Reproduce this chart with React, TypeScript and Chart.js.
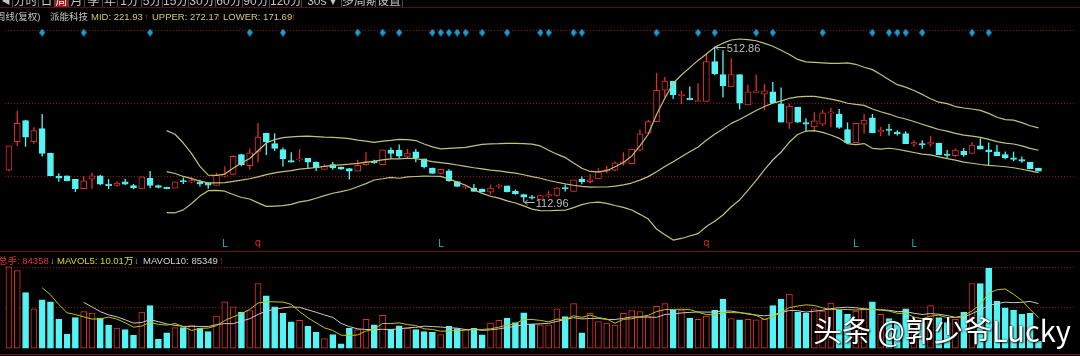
import React, { useEffect, useRef } from "react";
import { Chart, registerables } from "chart.js";

Chart.register(...registerables);

// ---------------- data (weekly K-line, 派能科技) ----------------
const opens = [
  195, 268.3, 322.5, 268.3, 301.8, 239.3, 180, 180.8, 171.8, 147.5,
  171.8, 180.8, 159.3, 155.8, 165, 155.8, 146.8, 174.3, 155.8, 150.8,
  148.8, 168.3, 164.3, 164.3, 161.8, 155.8, 180, 184.3, 235, 206.8,
  243.3, 290, 263.3, 248.3, 220, 221.8, 225.8, 215, 196.8, 209.3,
  203.3, 199.3, 192.5, 209.3, 218.3, 209.3, 246.8, 246.8, 230.5, 242.5,
  224.3, 200.8, 186.8, 193.3, 165.8, 150.8, 149.3, 146.8, 138.3, 153.3,
  155, 140.8, 132.5, 126.8, 120, 128.3, 130, 150, 140.8, 171.8,
  165.8, 172.5, 192.5, 195, 212.5, 211.8, 246.3, 290, 320, 400.8,
  424.3, 386.8, 380, 370.8, 371.8, 474.3, 440.8, 409.3, 440.8, 363.3,
  395, 390.8, 396.8, 365.8, 315.8, 357.5, 317.5, 306.3, 313.3, 342.5,
  339.3, 299.3, 265.8, 313.3, 330, 293.3, 300.8, 293.3, 289.3, 261.8,
  263.3, 261.8, 265, 236.8, 232.5, 243.3, 238.3, 257.5, 247.5, 242.5,
  235, 226.8, 222.5, 215.8, 200.8,
];
const highs = [
  257.5, 347.5, 324.3, 305, 339.3, 239.3, 186.8, 180.8, 171.8, 180,
  188.3, 182.5, 171.8, 165.8, 172.5, 159.3, 178.3, 192.5, 157.5, 152,
  165, 175.8, 176.8, 170, 163.3, 188.3, 205, 232.5, 236.8, 250.8,
  315.8, 290.8, 289.3, 253.3, 240.8, 249.3, 225.8, 216.8, 210, 215.8,
  203.8, 200, 221.8, 240.8, 221.8, 247.5, 253.3, 260.8, 249.3, 249.3,
  224.3, 201.3, 197.5, 196.8, 166.3, 157.5, 159.3, 147.5, 157.5, 160,
  155, 145, 133.8, 130.8, 130, 140.8, 151.3, 157.5, 170, 178.3,
  184.3, 200, 206.3, 216.8, 240.8, 250, 299.3, 324.3, 445, 434.3,
  424.3, 399.3, 410, 418.3, 495, 512.86, 503.3, 482.5, 440.8, 414.3,
  440.8, 415.8, 421.8, 407.5, 365.8, 357.5, 328.3, 343.8, 349.3, 355,
  351.8, 317.5, 316.3, 339.3, 339.3, 305.8, 313.3, 297.5, 295, 271.8,
  271.8, 282.5, 265, 246.8, 250.8, 251.8, 267.5, 276.8, 265.8, 259.3,
  242.5, 242.5, 230, 215.8, 200.8,
];
const lows = [
  192.5, 257.5, 255.8, 263.3, 230.8, 180, 165.8, 166.8, 139.3, 147.5,
  147.5, 157.5, 146.8, 153.3, 157.5, 146.8, 146.8, 149.3, 148.8, 146.3,
  148.8, 160, 161.8, 153.3, 147.5, 155.8, 176.8, 182.5, 205.8, 197.5,
  215.8, 234.3, 245, 205, 215, 218.3, 199.3, 193.3, 196.8, 196.8,
  196.3, 171.8, 192.5, 207.5, 211.8, 209.3, 224.3, 225.5, 224.3, 215.8,
  200, 186.3, 185, 165.8, 152.5, 146.8, 140, 138.8, 132.5, 146.8,
  138.8, 132.5, 112.96, 120, 119.3, 124.3, 127.5, 140.8, 140, 159.3,
  161.8, 172.5, 187.5, 192.5, 207.5, 211.3, 243.8, 288.8, 320, 382.5,
  378.3, 365.8, 375.5, 370.8, 371.8, 440, 382.5, 409.3, 351.8, 363.3,
  395, 349.3, 368.3, 318.3, 301.8, 317.5, 295, 295, 309.3, 305.8,
  301.8, 265.8, 265.8, 289.3, 290.8, 282.5, 285, 285, 263.3, 255.8,
  250.8, 255.8, 235, 226.8, 230, 230, 238.3, 249.3, 207.5, 232.5,
  223.8, 218.3, 214.3, 199.3, 192.5,
];
const closes = [
  257.5, 315.8, 280, 296.8, 238.3, 180.8, 174.3, 167.5, 147.5, 167.5,
  180.8, 159.3, 155, 161.8, 159.3, 149.3, 178.3, 155.8, 150.8, 147.5,
  165, 165.8, 168.3, 160, 156.8, 182.5, 182.5, 230.8, 209.3, 240,
  280, 268.3, 250.8, 225, 215.8, 224.3, 215.8, 200.8, 205, 200.8,
  197.5, 192.5, 207.5, 217.5, 214.3, 247.5, 238.3, 231.3, 239.3, 226.8,
  203.3, 186.8, 197.5, 167.5, 153.3, 153.3, 140.8, 139.3, 149.3, 155.8,
  139.3, 135, 125.8, 123.3, 130, 132.5, 149.3, 147.5, 170, 165.8,
  170, 190.8, 196.8, 213.8, 216.3, 249.3, 288.3, 320, 400.8, 424.3,
  389.3, 390.8, 376.8, 374.3, 474.3, 443.3, 411.8, 440.8, 367.5, 396.8,
  399.3, 399.3, 368.3, 318.3, 360, 318.3, 313.3, 321.8, 342.5, 345,
  305, 265.8, 315.8, 324.3, 290.8, 297.5, 297.5, 288.3, 263.3, 265.8,
  260, 265.8, 235, 233.3, 246.8, 235, 260, 249.3, 241.8, 232.5,
  226.8, 222.5, 218.3, 199.3, 192.5,
];
// 成交量 (万手)
const volumes = [
  100.4, 95.6, 68.4, 48.4, 59.6, 57.2, 35.6, 17.2, 37.6, 45.2,
  43.2, 37.2, 28.4, 24.8, 22.8, 15.6, 44.4, 52.4, 10.8, 18.8,
  25.2, 25.2, 28.4, 24.4, 20.4, 39.6, 57.2, 50.8, 44.4, 46.4,
  79.6, 64.4, 50.8, 42.8, 32.4, 34.4, 26.8, 19.6, 11.6, 16.8,
  5.2, 24.4, 22.8, 35.6, 28.8, 40.4, 23.6, 27.6, 24.4, 22.8,
  20.4, 19.6, 16.8, 26.8, 24, 23.2, 24.4, 16.4, 30.8, 34.4,
  37.2, 31.6, 43.6, 29.6, 28.8, 28.8, 48.4, 38.8, 54.8, 18.8,
  42.8, 32.8, 30.8, 28.4, 42.8, 46.4, 45.2, 39.6, 51.6, 54.8,
  47.2, 46.8, 37.2, 35.6, 39.6, 46.8, 60.4, 36.4, 34.8, 35.6,
  34.8, 35.6, 52.4, 60.4, 66.8, 44.4, 42.8, 48.4, 45.6, 55.6,
  46.8, 41.6, 45.6, 48.4, 57.2, 41.6, 36.4, 30.8, 48.4, 33.6,
  31.6, 52.4, 37.6, 31.6, 35.6, 44.4, 79.6, 79.6, 98.8, 57.6,
  49.6, 46.8, 41.6, 42.8, 8.4,
];
const N19 = [null, null, null, null, null, null, null, null, null, null, null, null, null, null, null, null, null, null, null];
const bollMid = [
  ...N19,
  191.3, 186.5, 179, 173.5, 166.8, 162.5, 162.5, 163, 166.3, 169.3,
  173, 178, 183.5, 188.3, 191.3, 194, 197.8, 199.8, 202, 204.8,
  207.5, 209, 210.5, 212.5, 215.3, 218.3, 221.5, 224.3, 224.3, 225.8,
  225, 221.3, 217.3, 214.5, 211.8, 208.5, 205, 201.3, 198.3, 195.5,
  193.3, 190.3, 187.5, 183.3, 178.5, 174.3, 168.5, 164, 159.8, 156.3,
  153.3, 151.5, 151.8, 151.8, 154, 157.3, 162, 169.5, 178.5, 191,
  204.5, 217, 229.8, 242.3, 254.8, 272, 287.5, 300.8, 315.5, 325.5,
  337, 348.5, 359, 367.5, 372.8, 380, 383.5, 384.8, 384.8, 381.8,
  377.8, 373.5, 367.3, 364.3, 361.8, 352.5, 345.3, 339.5, 332, 326.8,
  320.3, 313.3, 306.5, 299.8, 295.5, 289.8, 285.5, 282.8, 279.3, 274.3,
  268.5, 264.5, 262.5, 257.5, 251.3, 246.3,
];
const bollUpper = [
  ...N19,
  296.8, 287.5, 265, 237.5, 205, 182.5, 181.8, 185, 200, 213.8,
  225, 245, 265, 273.8, 278.8, 280.8, 282, 282.5, 281.3, 280,
  279.3, 278.3, 276.3, 272.5, 270, 266.8, 270, 271.8, 274.3, 273.8,
  271.3, 262.5, 255, 250, 251.3, 252.5, 253.8, 257.5, 261.3, 263,
  263.3, 264.3, 264.3, 263.3, 262, 257.5, 246.3, 236.3, 227.5, 213.8,
  200, 191.8, 190.8, 193.8, 203.8, 215, 231.3, 257.5, 287.5, 338.3,
  380, 418.8, 440, 458.8, 477.5, 493.8, 511.3, 521.8, 530, 532.5,
  530.8, 528, 521.3, 513.8, 503.8, 492.5, 480, 473.8, 472.5, 471.3,
  470, 470, 471.3, 467.5, 460, 453.8, 441.3, 427.5, 415, 408.8,
  400, 390, 378.8, 370, 366.3, 358.8, 355, 352.5, 348.8, 341.3,
  331.3, 325, 323.8, 317.5, 309.3, 303.8,
];
const bollLower = [
  ...N19,
  85.8, 85.5, 93, 109.5, 128.5, 142.5, 143.3, 141, 132.5, 124.8,
  121, 111, 102, 102.8, 103.8, 107.3, 113.5, 117, 122.8, 129.5,
  135.8, 139.8, 144.8, 152.5, 160.5, 169.8, 173, 176.8, 174.3, 177.8,
  178.8, 180, 179.5, 179, 172.3, 164.5, 156.3, 145, 135.3, 128,
  123.3, 116.3, 110.8, 103.3, 95, 91, 90.8, 91.8, 92, 98.8,
  106.5, 111.3, 112.8, 109.8, 104.3, 99.5, 92.8, 81.5, 69.5, 43.8,
  29, 15.3, 19.5, 25.8, 32, 50.3, 63.8, 79.8, 101, 118.5,
  143.3, 169, 196.8, 221.3, 241.8, 267.5, 287, 295.8, 297, 292.3,
  285.5, 277, 263.3, 261, 263.5, 251.3, 249.3, 251.5, 249, 244.8,
  240.5, 236.5, 234.3, 229.5, 224.8, 220.8, 216, 213, 209.8, 207.3,
  205.8, 204, 201.3, 197.5, 193.3, 188.8,
];
const mavol5 = [
  null, null, null, null,
  74.5, 65.8, 53.8, 43.6, 41.4, 38.6, 35.8, 36.1, 38.3, 35.8,
  31.3, 25.8, 27.2, 32, 29.2, 28.4, 30.3, 26.5, 21.7, 24.4,
  24.7, 27.6, 34, 38.5, 42.5, 47.7, 55.7, 57.1, 57.1, 56.8,
  54, 45, 37.4, 31.2, 25, 21.8, 16, 15.5, 16.2, 21,
  23.4, 30.4, 30.2, 31.2, 29, 27.8, 23.8, 23, 20.8, 21.3,
  21.5, 22.1, 23, 23, 23.8, 25.8, 28.6, 30.1, 35.5, 35.3,
  34.2, 32.5, 35.8, 34.9, 39.9, 37.9, 40.7, 37.6, 36, 30.7,
  35.5, 36.2, 38.7, 40.5, 45.1, 47.5, 47.7, 48, 47.5, 44.3,
  41.3, 41.2, 43.9, 43.8, 43.6, 42.8, 40.4, 35.4, 38.6, 43.8,
  50, 51.9, 53.4, 52.6, 49.6, 47.4, 47.8, 47.6, 47, 47.6,
  47.9, 46.9, 45.8, 42.9, 42.9, 38.2, 36.2, 39.4, 40.7, 37.4,
  37.8, 40.3, 45.8, 54.2, 67.6, 72, 73, 66.5, 58.9, 47.7, 37.8,
];
const mavol10 = [
  null, null, null, null, null, null, null, null, null,
  56.5, 50.8, 45, 41, 38.6, 34.9, 30.8, 31.6, 35.2, 32.5,
  29.8, 28, 26.8, 26.8, 26.8, 26.6, 29, 30.2, 30.1, 33.4,
  36.2, 41.6, 45.6, 47.8, 49.6, 50.8, 50.3, 47.3, 44.2, 40.9,
  37.9, 30.5, 26.5, 23.7, 23, 22.6, 23.2, 22.9, 23.7, 25,
  25.6, 27.1, 26.6, 26, 25.1, 24.6, 22.9, 23, 21.9, 22.5,
  23.7, 25.4, 26.6, 29.2, 29.5, 30, 30.6, 33, 35.2, 37.6,
  36, 36.6, 36.7, 35.4, 35.3, 36.7, 38.5, 38.2, 38.2, 37.9,
  41.5, 42, 43.4, 44, 44.7, 44.4, 44.4, 46, 45.6, 44,
  42, 40.8, 39.7, 41.2, 43.7, 46.4, 46.2, 44.4, 45.6, 46.7,
  48.7, 49.9, 50.5, 49.8, 48.6, 47.6, 47.4, 46.7, 45, 45.2,
  43, 41.5, 42.6, 41.8, 40.1, 38, 38.2, 42.6, 47.4, 52.5,
  54.9, 56.7, 56.1, 56.5, 57.6, 54.9,
];
// signal diamonds (week index), L / q markers
const signalWeeks = [4, 9, 17, 29, 33, 42, 45, 47, 51, 52, 53, 54, 55, 57, 60, 64, 65, 68, 69, 78, 83, 85, 90, 92, 98, 104, 106, 107, 108, 110, 116, 118];
const markLWeeks = [26, 52, 102, 109];
const markQWeeks = [30, 84];
const signalLevel = 549;
const markerLevel = 4;
// gridline ticks
const priceGridTicks = [180, 367.5, 555];
const volumeGridTicks = [51, 100];
// texts
const toolbarTabs = ["◀", "分时", "日", "周", "月", "季", "年", "1分", "5分", "15分", "30分", "60分", "90分", "120分", "30s  ▾", "多周期", "设置"];
const activeTab = "周";
const headerTitle = "周线(复权)";
const stockName = "派能科技";
const bollTexts = ["MID: 221.93", "UPPER: 272.17", "LOWER: 171.69"];
const volTexts = ["总手: 84358", "MAVOL5: 10.01万", "MAVOL10: 85349"];
const watermark = "头条 @郭少爷Lucky";

// ---------------- styles / layout ----------------
const RED = "#e22f2a";
const CYAN = "#54f4f4";
const BOLL_COLOR = "#c2c27a";
const FONT = "'Liberation Sans', 'Noto Sans CJK SC', sans-serif";
const tabEdges = [0, 13, 39, 55, 69, 85, 103, 118, 142, 163, 189, 216, 243, 270, 302, 342, 376, 403];

const overlayPlugin = {
  id: "overlay",
  beforeDatasetsDraw(chart: any) {
    const { ctx, chartArea, scales } = chart;
    ctx.save();
    ctx.strokeStyle = "#8c1414";
    ctx.lineWidth = 1;
    ctx.setLineDash([1, 2]);
    const line = (y: number) => {
      const py = Math.round(y) + 0.5;
      ctx.beginPath();
      ctx.moveTo(chartArea.left, py);
      ctx.lineTo(chartArea.right, py);
      ctx.stroke();
    };
    priceGridTicks.forEach((v) => line(scales.y.getPixelForValue(v)));
    volumeGridTicks.forEach((v) => line(scales.yv.getPixelForValue(v)));
    ctx.restore();
  },
  afterDatasetsDraw(chart: any) {
    const { ctx, scales } = chart;
    const xs = scales.x;
    const ys = scales.y;
    ctx.save();
    // extreme value tags
    let hi = 0;
    let lo = 0;
    highs.forEach((v, i) => { if (v > highs[hi]) hi = i; });
    lows.forEach((v, i) => { if (v < lows[lo]) lo = i; });
    const tag = (i: number, v: number) => {
      const x = xs.getPixelForValue(i);
      const y = Math.round(ys.getPixelForValue(v)) + 0.5;
      ctx.strokeStyle = "#b8b8b8";
      ctx.fillStyle = "#bdbdbd";
      ctx.lineWidth = 1;
      ctx.beginPath();
      ctx.moveTo(x + 1, y);
      ctx.lineTo(x + 11, y);
      ctx.moveTo(x + 4, y - 2.5);
      ctx.lineTo(x + 1, y);
      ctx.lineTo(x + 4, y + 2.5);
      ctx.stroke();
      ctx.font = `11px ${FONT}`;
      ctx.textBaseline = "middle";
      ctx.textAlign = "left";
      ctx.fillText(v.toFixed(2), x + 12, y + 1);
    };
    tag(hi, highs[hi]);
    tag(lo, lows[lo]);
    // L / q markers
    ctx.font = `10px 'DejaVu Sans', sans-serif`;
    ctx.textAlign = "center";
    ctx.textBaseline = "middle";
    const my = ys.getPixelForValue(markerLevel);
    ctx.fillStyle = "#1aa6ac";
    markLWeeks.forEach((i) => ctx.fillText("L", xs.getPixelForValue(i), my));
    ctx.fillStyle = "#d02626";
    markQWeeks.forEach((i) => ctx.fillText("q", xs.getPixelForValue(i), my - 1));
    ctx.restore();
  },
};

function T(props: { x: number; y: number; color: string; size?: number; children: any }) {
  const s = props.size ?? 9.5;
  return (
    <div
      style={{
        position: "absolute",
        left: props.x,
        top: props.y,
        color: props.color,
        fontSize: s,
        lineHeight: "12px",
        whiteSpace: "nowrap",
        fontFamily: FONT,
      }}
    >
      {props.children}
    </div>
  );
}

export default function App() {
  const canvasRef = useRef<HTMLCanvasElement | null>(null);

  useEffect(() => {
    document.body.style.margin = "0";
    document.body.style.background = "#000";
    document.body.style.overflow = "hidden";
    const canvas = canvasRef.current;
    if (!canvas) return;
    const idx = opens.map((_, i) => i);
    const isUp = idx.map((i) => closes[i] >= opens[i]);

    const diamond = document.createElement("canvas");
    diamond.width = 6;
    diamond.height = 8;
    const dc = diamond.getContext("2d")!;
    dc.fillStyle = "#1e9cd6";
    dc.beginPath();
    dc.moveTo(3, 0);
    dc.lineTo(6, 4);
    dc.lineTo(3, 8);
    dc.lineTo(0, 4);
    dc.closePath();
    dc.fill();

    const series = (arr: (number | null)[]) =>
      idx.filter((i) => arr[i] != null).map((i) => ({ x: i, y: arr[i] as number }));

    const lineBase = { type: "line", pointRadius: 0, tension: 0, order: 0, borderJoinStyle: "round" };

    const chart = new Chart(canvas, {
      type: "bar",
      data: {
        datasets: [
          { ...lineBase, label: "UPPER", data: series(bollUpper), yAxisID: "y", borderColor: BOLL_COLOR, borderWidth: 1.2 },
          { ...lineBase, label: "MID", data: series(bollMid), yAxisID: "y", borderColor: BOLL_COLOR, borderWidth: 1.2 },
          { ...lineBase, label: "LOWER", data: series(bollLower), yAxisID: "y", borderColor: BOLL_COLOR, borderWidth: 1.2 },
          { ...lineBase, label: "MAVOL5", data: series(mavol5), yAxisID: "yv", borderColor: "#c4c400", borderWidth: 1 },
          { ...lineBase, label: "MAVOL10", data: series(mavol10), yAxisID: "yv", borderColor: "#c8c8c8", borderWidth: 1 },
          {
            type: "scatter",
            label: "signal",
            data: signalWeeks.map((i) => ({ x: i, y: signalLevel })),
            yAxisID: "y",
            pointStyle: diamond,
            pointRadius: 4,
            order: 0,
          },
          {
            type: "bar",
            label: "body",
            data: idx.map((i) => ({ x: i, y: [opens[i], closes[i]] })),
            yAxisID: "y",
            backgroundColor: idx.map((i) => (isUp[i] ? "#000000" : CYAN)),
            borderColor: idx.map((i) => (isUp[i] ? RED : CYAN)),
            borderWidth: 1,
            borderSkipped: false,
            barThickness: 6,
            minBarLength: 1,
            grouped: false,
            order: 1,
          },
          {
            type: "bar",
            label: "wick",
            data: idx.map((i) => ({ x: i, y: [lows[i], highs[i]] })),
            yAxisID: "y",
            backgroundColor: idx.map((i) => (isUp[i] ? RED : CYAN)),
            borderWidth: 0,
            barThickness: 1,
            inflateAmount: 0.15,
            grouped: false,
            order: 2,
          },
          {
            type: "bar",
            label: "volume",
            data: idx.map((i) => ({ x: i, y: volumes[i] })),
            yAxisID: "yv",
            backgroundColor: idx.map((i) => (isUp[i] ? "#000000" : CYAN)),
            borderColor: idx.map((i) => (isUp[i] ? RED : CYAN)),
            borderWidth: 1,
            borderSkipped: false,
            barThickness: 6,
            grouped: false,
            order: 1,
          },
        ],
      } as any,
      options: {
        animation: false,
        responsive: false,
        devicePixelRatio: 1,
        events: [],
        layout: { padding: 0 },
        plugins: { legend: { display: false }, tooltip: { enabled: false } },
        scales: {
          x: { type: "linear", min: -0.4773, max: 128.4, display: false, offset: false },
          y: { type: "linear", min: -270, max: 620, display: false },
          yv: { type: "linear", min: -3.6, max: 423.6, display: false },
        },
      } as any,
      plugins: [overlayPlugin],
    });
    return () => chart.destroy();
  }, []);

  return (
    <div style={{ position: "relative", width: 1080, height: 356, background: "#000", overflow: "hidden" }}>
      <canvas ref={canvasRef} width={1080} height={356} style={{ position: "absolute", left: 0, top: 0, width: 1080, height: 356 }} />

      {/* toolbar (cut off at top) */}
      <div style={{ position: "absolute", left: 0, top: 0, width: 1080, height: 7, overflow: "hidden" }}>
        {toolbarTabs.map((t, k) => (
          <div
            key={k}
            style={{
              position: "absolute",
              left: tabEdges[k],
              width: tabEdges[k + 1] - tabEdges[k] - 1,
              top: 0,
              height: 7,
              borderRight: "1px solid #4a4a4a",
              background: t === activeTab ? "#a5161b" : "transparent",
              color: t === activeTab ? "#f0f0f0" : "#c4c4c4",
              fontSize: k === 0 ? 9 : 12,
              lineHeight: "12px",
              textAlign: "center",
              fontFamily: FONT,
              overflow: "hidden",
              whiteSpace: "nowrap",
            }}
          >
            <span style={{ position: "relative", top: -5 }}>{t}</span>
          </div>
        ))}
      </div>
      <div style={{ position: "absolute", left: 0, top: 7, width: 1080, height: 1, background: "#5c0d0d" }} />

      {/* main header */}
      <T x={-4} y={10.5} color="#c4c4c4">{headerTitle}</T>
      <T x={50} y={10.5} color="#c4c4c4">{stockName}</T>
      <T x={91} y={10.5} color="#d4c870">{bollTexts[0]}</T>
      <T x={144} y={10.5} color="#e02828">↑</T>
      <T x={152} y={10.5} color="#d4c870">{bollTexts[1]}</T>
      <T x={216} y={10.5} color="#e02828">↑</T>
      <T x={223} y={10.5} color="#d4c870">{bollTexts[2]}</T>
      <T x={291} y={10.5} color="#e02828">↑</T>

      {/* panel separator */}
      <div style={{ position: "absolute", left: 0, top: 251, width: 1080, height: 1, background: "#6a0e0e" }} />

      {/* volume header */}
      <T x={-2} y={255} color="#e03434">{volTexts[0]}</T>
      <T x={50} y={255} color="#3ed8dc">↓</T>
      <T x={57} y={255} color="#d6d61e">{volTexts[1]}</T>
      <T x={134} y={255} color="#3ed8dc">↓</T>
      <T x={143} y={255} color="#d4d4d4">{volTexts[2]}</T>
      <T x={219} y={255} color="#e02828">↑</T>

      {/* bottom axis line */}
      <div style={{ position: "absolute", left: 0, top: 354, width: 1080, height: 1, background: "#7a1010" }} />

      {/* watermark */}
      <div
        style={{
          position: "absolute",
          left: 813,
          top: 314,
          fontSize: 29,
          lineHeight: "30px",
          color: "#ffffff",
          fontFamily: "'Noto Sans CJK SC', sans-serif",
          whiteSpace: "nowrap",
          textShadow: "0 0 2px rgba(0,0,0,0.9), 1px 1px 2px rgba(0,0,0,0.8)",
        }}
      >
        {watermark}
      </div>
    </div>
  );
}
